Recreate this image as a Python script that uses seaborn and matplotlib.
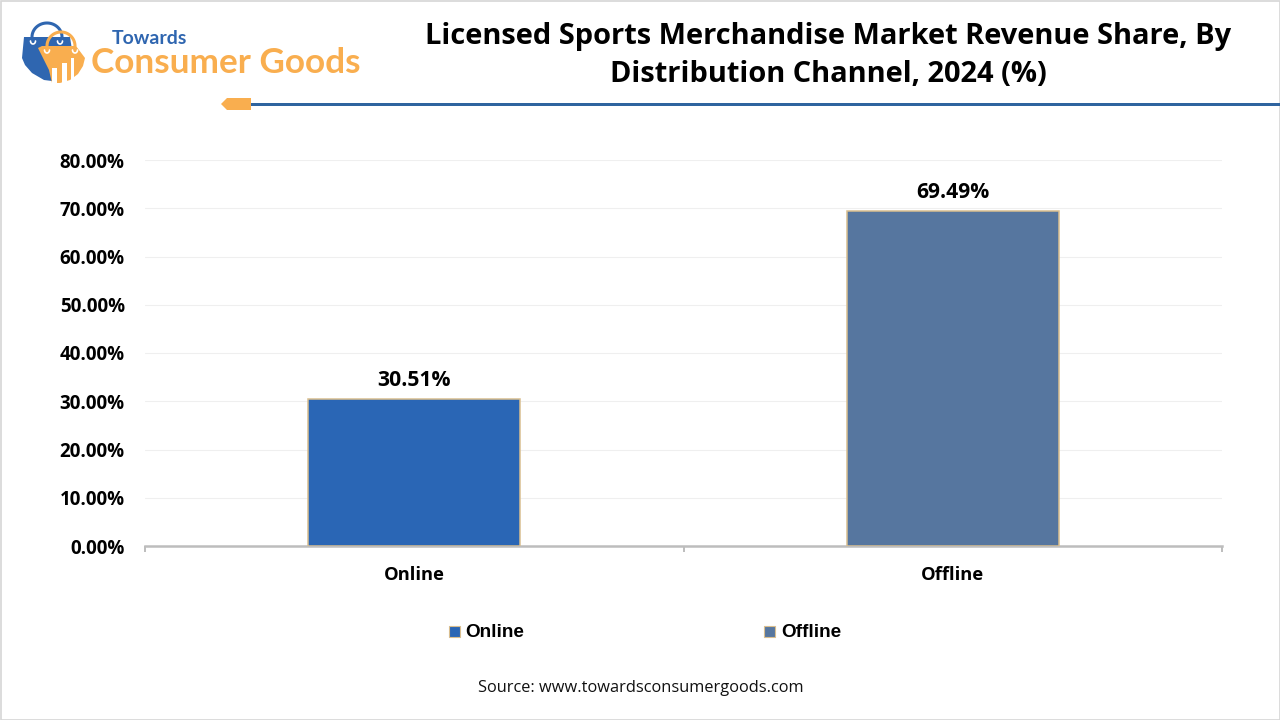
"""
Licensed sports merchandise revenue share by distribution channel
"""

import matplotlib
matplotlib.use('Agg')
import matplotlib.pyplot as plt
from matplotlib.patches import Polygon, Rectangle
from matplotlib.ticker import FuncFormatter, MultipleLocator
import numpy as np
import pandas as pd
import seaborn as sns

channels = ['Online', 'Offline']
shares = [30.51, 69.49]
bar_colors = ['#2A66B5', '#56769F']
y_ticks = [0, 10, 20, 30, 40, 50, 60, 70, 80]

BLUE = '#2F66B0'
ORANGE = '#F9AE4F'
TEXT = '#000000'


def handle(ov, x0, x1, y_base, y_top, color):
    # bag handle, half ellipse from one side of the bag to the other
    t = np.linspace(0, np.pi, 40)
    xs = (x0 + x1) / 2 - (x1 - x0) / 2 * np.cos(t)
    ys = y_base - (y_base - y_top) * np.sin(t)
    ov.plot(xs, ys, color=color, linewidth=2.2, solid_capstyle='round')


def hook(ov, cx, y, color):
    t = np.linspace(0, np.pi, 20)
    ov.plot(cx + 2.5 * np.cos(t), y + 3 * np.sin(t), color=color, linewidth=1.2)


sns.set_theme(style='white')
plt.rcParams['font.family'] = ['Open Sans', 'DejaVu Sans']

fig = plt.figure(figsize=(12.8, 7.2), dpi=100, facecolor='white')

# plot area in pixels: x 145-1222, y 160-546
ax = fig.add_axes([145 / 1280, 1 - 546 / 720, 1077 / 1280, 386 / 720])

df = pd.DataFrame({'channel': channels, 'share': shares})
sns.barplot(data=df, x='channel', y='share', hue='channel', palette=bar_colors,
            dodge=False, width=0.393, saturation=1, edgecolor='#D9BE8F',
            linewidth=1.1, legend=False, ax=ax, zorder=3)

ax.set_xlim(-0.5, 1.5)
ax.set_ylim(0, 80)
ax.set_yticks(y_ticks)
ax.yaxis.set_major_formatter(FuncFormatter(lambda v, _: f'{v:.2f}%'))
ax.xaxis.set_minor_locator(MultipleLocator(1, offset=0.5))
ax.set_xlabel('')
ax.set_ylabel('')
ax.grid(axis='y', color='#EFEFEF', linewidth=0.8, zorder=0)
ax.set_axisbelow(True)
for side in ['top', 'right', 'left']:
    ax.spines[side].set_visible(False)
ax.spines['bottom'].set_color('#BDBDBD')
ax.spines['bottom'].set_linewidth(1.8)
ax.tick_params(axis='y', length=0, pad=14.5, labelsize=13.5, labelcolor=TEXT)
ax.tick_params(axis='x', which='major', length=0, pad=14.5, labelsize=13.2, labelcolor=TEXT)
ax.tick_params(axis='x', which='minor', bottom=True, length=4.5, width=1.4, color='#BDBDBD')
for lab in ax.get_xticklabels() + ax.get_yticklabels():
    lab.set_fontweight('bold')

for cont in ax.containers:
    ax.bar_label(cont, fmt='%.2f%%', padding=5.5, fontsize=15.2, fontweight='bold', color=TEXT)

# overlay in pixel coordinates for header, legend, footer
ov = fig.add_axes([0, 0, 1, 1], zorder=5)
ov.set_xlim(0, 1280)
ov.set_ylim(720, 0)
ov.axis('off')

# image border
ov.add_patch(Rectangle((0.5, 0.5), 1279, 719, fill=False, edgecolor='#D6D6D6', linewidth=1.2))

# title
ov.text(828.5, 36.5, 'Licensed Sports Merchandise Market Revenue Share, By', ha='center',
        va='center', fontsize=20.9, fontweight='bold', color=TEXT)
ov.text(828.5, 75, 'Distribution Channel, 2024 (%)', ha='center', va='center',
        fontsize=20.9, fontweight='bold', color=TEXT)

# header rule with orange tag
ov.add_patch(Rectangle((251, 102.5), 1029, 3, color='#2F649F', linewidth=0))
ov.add_patch(Polygon([(221, 104), (227, 98), (251, 98), (251, 110), (227, 110)],
                     closed=True, color=ORANGE, linewidth=0))

# logo: blue bag behind orange bag
handle(ov, 32, 62, 37, 23, BLUE)
blue_bag = [(24, 37), (70, 37), (72, 50), (60, 82), (44, 80), (32, 73), (25, 65), (22, 58)]
ov.add_patch(Polygon(blue_bag, closed=True, color=BLUE, linewidth=0))
handle(ov, 47, 75, 46, 32, ORANGE)
orange_bag = [(42, 46), (76, 46), (85, 58), (83, 66), (78, 74), (70, 80), (60, 83), (52, 83),
              (49, 70), (38, 48)]
ov.add_patch(Polygon(orange_bag, closed=True, color=ORANGE, linewidth=0))
for x0, x1, top in [(52, 57, 68), (62, 67, 63), (71, 74, 58)]:
    ov.add_patch(Rectangle((x0, top), x1 - x0, 85 - top, color='white', linewidth=0))
hook(ov, 33, 41, 'white')
hook(ov, 60, 41, 'white')
hook(ov, 47, 50, 'white')
hook(ov, 75, 50, 'white')

ov.text(112, 39, 'Towards', ha='left', va='center', fontsize=14, fontweight='bold',
        color=BLUE, family='Lato')
ov.text(91, 63, 'Consumer Goods', ha='left', va='center', fontsize=25.3, fontweight='bold',
        color=ORANGE, family='Lato')

# legend
for x0, x_text, name, col in zip([449, 764], [465, 781], channels, bar_colors):
    ov.add_patch(Rectangle((x0, 626), 11, 11, facecolor=col, edgecolor='#D9BE8F', linewidth=0.8))
    ov.text(x_text, 632.5, name, ha='left', va='center', fontsize=13.7, fontweight='bold',
            color=TEXT, family='Liberation Sans')

# source
ov.text(640.5, 687.5, 'Source: www.towardsconsumergoods.com', ha='center', va='center',
        fontsize=11.75, color='#111111')

fig.savefig('out.png', dpi=100, facecolor='white')
